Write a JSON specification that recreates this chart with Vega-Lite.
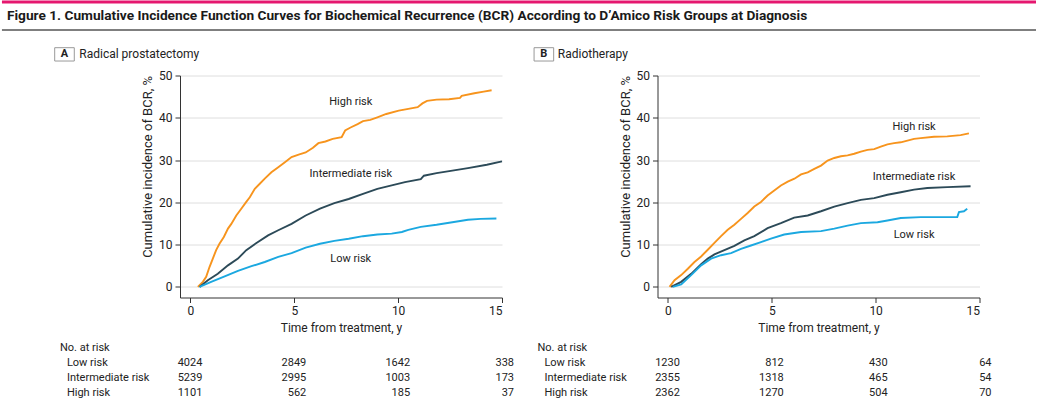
{
  "$schema": "https://vega.github.io/schema/vega-lite/v6.json",
  "padding": 0,
  "background": "white",
  "spacing": 45.5,
  "bounds": "flush",
  "config": {
    "font": "Roboto",
    "view": {"stroke": null},
    "axis": {
      "labelFont": "Roboto", "titleFont": "Roboto",
      "labelFontSize": 12, "titleFontSize": 12, "titleFontWeight": "normal",
      "labelColor": "#222", "titleColor": "#222",
      "domainColor": "#333", "tickColor": "#333", "tickSize": 5,
      "gridColor": "#dedede", "labelPadding": 3
    }
  },
  "datasets": {
    "curvesA": [
      {"group":"High risk","t":0.36,"v":0},{"group":"High risk","t":0.6,"v":1.2},{"group":"High risk","t":0.76,"v":2.4},{"group":"High risk","t":0.92,"v":4.7},{"group":"High risk","t":1.08,"v":6.7},{"group":"High risk","t":1.24,"v":8.7},{"group":"High risk","t":1.4,"v":10.2},{"group":"High risk","t":1.61,"v":11.8},{"group":"High risk","t":1.81,"v":13.8},{"group":"High risk","t":1.97,"v":14.9},{"group":"High risk","t":2.21,"v":16.9},{"group":"High risk","t":2.45,"v":18.5},{"group":"High risk","t":2.69,"v":20.1},{"group":"High risk","t":2.86,"v":21.2},{"group":"High risk","t":3.1,"v":23.2},{"group":"High risk","t":3.34,"v":24.4},{"group":"High risk","t":3.58,"v":25.6},{"group":"High risk","t":3.9,"v":27.1},{"group":"High risk","t":4.23,"v":28.3},{"group":"High risk","t":4.55,"v":29.5},{"group":"High risk","t":4.87,"v":30.7},{"group":"High risk","t":5.21,"v":31.3},{"group":"High risk","t":5.55,"v":31.8},{"group":"High risk","t":5.9,"v":32.9},{"group":"High risk","t":6.16,"v":34.0},{"group":"High risk","t":6.5,"v":34.4},{"group":"High risk","t":6.85,"v":35.0},{"group":"High risk","t":7.28,"v":35.4},{"group":"High risk","t":7.45,"v":37.0},{"group":"High risk","t":7.71,"v":37.7},{"group":"High risk","t":8.05,"v":38.5},{"group":"High risk","t":8.31,"v":39.2},{"group":"High risk","t":8.66,"v":39.5},{"group":"High risk","t":9.0,"v":40.1},{"group":"High risk","t":9.43,"v":40.9},{"group":"High risk","t":10.03,"v":41.7},{"group":"High risk","t":10.49,"v":42.1},{"group":"High risk","t":10.94,"v":42.5},{"group":"High risk","t":11.17,"v":43.4},{"group":"High risk","t":11.39,"v":44.0},{"group":"High risk","t":11.85,"v":44.3},{"group":"High risk","t":12.45,"v":44.4},{"group":"High risk","t":12.98,"v":44.7},{"group":"High risk","t":13.06,"v":45.2},{"group":"High risk","t":13.67,"v":45.8},{"group":"High risk","t":14.12,"v":46.2},{"group":"High risk","t":14.5,"v":46.5},
      {"group":"Intermediate risk","t":0.44,"v":0},{"group":"Intermediate risk","t":0.84,"v":1.6},{"group":"Intermediate risk","t":1.32,"v":3.1},{"group":"Intermediate risk","t":1.81,"v":5.1},{"group":"Intermediate risk","t":2.29,"v":6.7},{"group":"Intermediate risk","t":2.69,"v":8.7},{"group":"Intermediate risk","t":3.18,"v":10.4},{"group":"Intermediate risk","t":3.74,"v":12.2},{"group":"Intermediate risk","t":4.23,"v":13.4},{"group":"Intermediate risk","t":4.87,"v":14.9},{"group":"Intermediate risk","t":5.55,"v":16.9},{"group":"Intermediate risk","t":6.24,"v":18.5},{"group":"Intermediate risk","t":6.93,"v":19.8},{"group":"Intermediate risk","t":7.62,"v":20.8},{"group":"Intermediate risk","t":8.31,"v":22.0},{"group":"Intermediate risk","t":9.0,"v":23.2},{"group":"Intermediate risk","t":9.69,"v":24.0},{"group":"Intermediate risk","t":10.33,"v":24.8},{"group":"Intermediate risk","t":11.09,"v":25.5},{"group":"Intermediate risk","t":11.24,"v":26.3},{"group":"Intermediate risk","t":11.85,"v":26.9},{"group":"Intermediate risk","t":12.61,"v":27.5},{"group":"Intermediate risk","t":13.36,"v":28.1},{"group":"Intermediate risk","t":14.27,"v":28.9},{"group":"Intermediate risk","t":15.0,"v":29.7},
      {"group":"Low risk","t":0.44,"v":0},{"group":"Low risk","t":1.0,"v":1.2},{"group":"Low risk","t":1.65,"v":2.5},{"group":"Low risk","t":2.29,"v":3.8},{"group":"Low risk","t":2.94,"v":4.9},{"group":"Low risk","t":3.58,"v":5.9},{"group":"Low risk","t":4.23,"v":7.1},{"group":"Low risk","t":4.87,"v":8.0},{"group":"Low risk","t":5.55,"v":9.3},{"group":"Low risk","t":6.24,"v":10.2},{"group":"Low risk","t":6.93,"v":10.9},{"group":"Low risk","t":7.62,"v":11.4},{"group":"Low risk","t":8.31,"v":12.0},{"group":"Low risk","t":9.0,"v":12.4},{"group":"Low risk","t":9.69,"v":12.6},{"group":"Low risk","t":10.18,"v":13.0},{"group":"Low risk","t":10.49,"v":13.5},{"group":"Low risk","t":11.09,"v":14.2},{"group":"Low risk","t":11.85,"v":14.7},{"group":"Low risk","t":12.61,"v":15.3},{"group":"Low risk","t":13.36,"v":15.9},{"group":"Low risk","t":13.97,"v":16.1},{"group":"Low risk","t":14.73,"v":16.2}
    ],
    "curvesB": [
      {"group":"High risk","t":0.08,"v":0},{"group":"High risk","t":0.32,"v":1.6},{"group":"High risk","t":0.64,"v":2.8},{"group":"High risk","t":0.96,"v":4.3},{"group":"High risk","t":1.28,"v":5.9},{"group":"High risk","t":1.6,"v":7.2},{"group":"High risk","t":1.92,"v":8.8},{"group":"High risk","t":2.24,"v":10.4},{"group":"High risk","t":2.56,"v":12.0},{"group":"High risk","t":2.88,"v":13.5},{"group":"High risk","t":3.2,"v":14.7},{"group":"High risk","t":3.52,"v":16.1},{"group":"High risk","t":3.84,"v":17.5},{"group":"High risk","t":4.16,"v":19.0},{"group":"High risk","t":4.48,"v":20.1},{"group":"High risk","t":4.8,"v":21.6},{"group":"High risk","t":5.12,"v":22.8},{"group":"High risk","t":5.44,"v":24.0},{"group":"High risk","t":5.77,"v":24.9},{"group":"High risk","t":6.09,"v":25.6},{"group":"High risk","t":6.41,"v":26.6},{"group":"High risk","t":6.73,"v":27.1},{"group":"High risk","t":7.05,"v":27.9},{"group":"High risk","t":7.37,"v":28.7},{"group":"High risk","t":7.69,"v":29.9},{"group":"High risk","t":8.01,"v":30.5},{"group":"High risk","t":8.33,"v":30.9},{"group":"High risk","t":8.65,"v":31.1},{"group":"High risk","t":8.97,"v":31.5},{"group":"High risk","t":9.29,"v":32.0},{"group":"High risk","t":9.61,"v":32.4},{"group":"High risk","t":9.93,"v":32.6},{"group":"High risk","t":10.25,"v":33.2},{"group":"High risk","t":10.57,"v":33.7},{"group":"High risk","t":10.89,"v":34.0},{"group":"High risk","t":11.21,"v":34.2},{"group":"High risk","t":11.53,"v":34.6},{"group":"High risk","t":11.85,"v":35.0},{"group":"High risk","t":12.17,"v":35.2},{"group":"High risk","t":12.81,"v":35.5},{"group":"High risk","t":13.45,"v":35.6},{"group":"High risk","t":14.09,"v":35.9},{"group":"High risk","t":14.49,"v":36.3},
      {"group":"Intermediate risk","t":0.16,"v":0},{"group":"Intermediate risk","t":0.64,"v":1.2},{"group":"Intermediate risk","t":1.12,"v":3.1},{"group":"Intermediate risk","t":1.6,"v":5.4},{"group":"Intermediate risk","t":1.92,"v":6.7},{"group":"Intermediate risk","t":2.24,"v":7.7},{"group":"Intermediate risk","t":2.72,"v":8.7},{"group":"Intermediate risk","t":3.2,"v":9.7},{"group":"Intermediate risk","t":3.68,"v":11.0},{"group":"Intermediate risk","t":4.16,"v":12.0},{"group":"Intermediate risk","t":4.8,"v":13.9},{"group":"Intermediate risk","t":5.44,"v":15.1},{"group":"Intermediate risk","t":6.08,"v":16.4},{"group":"Intermediate risk","t":6.73,"v":16.9},{"group":"Intermediate risk","t":7.37,"v":17.9},{"group":"Intermediate risk","t":8.01,"v":19.0},{"group":"Intermediate risk","t":8.65,"v":19.8},{"group":"Intermediate risk","t":9.29,"v":20.6},{"group":"Intermediate risk","t":9.93,"v":21.0},{"group":"Intermediate risk","t":10.57,"v":21.8},{"group":"Intermediate risk","t":11.21,"v":22.4},{"group":"Intermediate risk","t":11.85,"v":23.0},{"group":"Intermediate risk","t":12.49,"v":23.4},{"group":"Intermediate risk","t":13.45,"v":23.6},{"group":"Intermediate risk","t":14.57,"v":23.8},
      {"group":"Low risk","t":0.24,"v":0},{"group":"Low risk","t":0.64,"v":0.6},{"group":"Low risk","t":1.12,"v":2.8},{"group":"Low risk","t":1.6,"v":5.1},{"group":"Low risk","t":2.08,"v":6.7},{"group":"Low risk","t":2.56,"v":7.5},{"group":"Low risk","t":3.04,"v":8.0},{"group":"Low risk","t":3.52,"v":9.0},{"group":"Low risk","t":4.0,"v":9.8},{"group":"Low risk","t":4.48,"v":10.6},{"group":"Low risk","t":4.96,"v":11.4},{"group":"Low risk","t":5.6,"v":12.4},{"group":"Low risk","t":6.41,"v":13.0},{"group":"Low risk","t":7.37,"v":13.2},{"group":"Low risk","t":8.01,"v":13.8},{"group":"Low risk","t":8.65,"v":14.5},{"group":"Low risk","t":9.29,"v":15.1},{"group":"Low risk","t":10.09,"v":15.3},{"group":"Low risk","t":10.57,"v":15.7},{"group":"Low risk","t":11.21,"v":16.3},{"group":"Low risk","t":12.17,"v":16.5},{"group":"Low risk","t":13.13,"v":16.5},{"group":"Low risk","t":13.93,"v":16.5},{"group":"Low risk","t":14.01,"v":17.7},{"group":"Low risk","t":14.25,"v":17.9},{"group":"Low risk","t":14.41,"v":18.5}
    ],
    "labelsA": [
      {"group":"High risk","t":7.72,"v":43.85},
      {"group":"Intermediate risk","t":7.72,"v":26.6},
      {"group":"Low risk","t":7.72,"v":6.5}
    ],
    "labelsB": [
      {"group":"High risk","t":11.85,"v":37.9},
      {"group":"Intermediate risk","t":11.85,"v":26.1},
      {"group":"Low risk","t":11.85,"v":12.3}
    ],
    "riskA": [
      {"t":0,"row":1,"n":4024},{"t":5,"row":1,"n":2849},{"t":10,"row":1,"n":1642},{"t":15,"row":1,"n":338},
      {"t":0,"row":2,"n":5239},{"t":5,"row":2,"n":2995},{"t":10,"row":2,"n":1003},{"t":15,"row":2,"n":173},
      {"t":0,"row":3,"n":1101},{"t":5,"row":3,"n":562},{"t":10,"row":3,"n":185},{"t":15,"row":3,"n":37}
    ],
    "riskB": [
      {"t":0,"row":1,"n":1230},{"t":5,"row":1,"n":812},{"t":10,"row":1,"n":430},{"t":15,"row":1,"n":64},
      {"t":0,"row":2,"n":2355},{"t":5,"row":2,"n":1318},{"t":10,"row":2,"n":465},{"t":15,"row":2,"n":54},
      {"t":0,"row":3,"n":2362},{"t":5,"row":3,"n":1270},{"t":10,"row":3,"n":504},{"t":15,"row":3,"n":70}
    ],
    "rowlabels": [
      {"label":"Low risk","row":1},{"label":"Intermediate risk","row":2},{"label":"High risk","row":3}
    ],
    "tablehead": [{"label":"No. at risk","row":0}]
  },
  "vconcat": [
    {
      "width": 856, "height": 28,
      "data": {"values": [{"title": "Figure 1. Cumulative Incidence Function Curves for Biochemical Recurrence (BCR) According to D’Amico Risk Groups at Diagnosis"}]},
      "layer": [
        {"mark": {"type": "rule", "color": "#E5176F", "strokeWidth": 3},
         "encoding": {"x": {"datum": -0.208, "type": "quantitative", "scale": {"domain": [0, 1], "nice": false, "zero": false}, "axis": null},
                      "x2": {"datum": 1},
                      "y": {"datum": 1, "type": "quantitative", "scale": {"domain": [0, 1], "nice": false, "zero": false}, "axis": null}}},
        {"mark": {"type": "rule", "color": "#555", "strokeWidth": 1.5},
         "encoding": {"x": {"datum": -0.208, "type": "quantitative"}, "x2": {"datum": 1}, "y": {"datum": 0, "type": "quantitative"}}},
        {"mark": {"type": "text", "align": "left", "dx": 5, "fontSize": 13.7, "fontWeight": "bold", "color": "#1a1a1a"},
         "encoding": {"x": {"datum": -0.208, "type": "quantitative"}, "y": {"datum": 0.5, "type": "quantitative"}, "text": {"field": "title"}}}
      ]
    },
    {
      "spacing": 17.5,
      "hconcat": [
        {
          "spacing": 42.5,
          "bounds": "flush",
          "vconcat": [
            {
              "width": 322, "height": 222,
              "layer": [
                {"data": {"name": "curvesA"}, "mark": {"type": "line", "strokeWidth": 1.9},
                 "encoding": {
                   "x": {"field": "t", "type": "quantitative", "scale": {"domain": [-0.5, 15], "nice": false, "zero": false},
                         "axis": {"values": [0, 5, 10, 15], "title": "Time from treatment, y", "grid": false, "titlePadding": 6}},
                   "y": {"field": "v", "type": "quantitative", "scale": {"domain": [-2.5, 50], "nice": false, "zero": false},
                         "axis": {"values": [0, 10, 20, 30, 40, 50], "title": "Cumulative incidence of BCR, %", "titleFontSize": 13, "grid": true, "titleAnchor": "end", "titlePadding": 4}},
                   "color": {"field": "group", "type": "nominal", "scale": {"domain": ["Low risk", "Intermediate risk", "High risk"], "range": ["#1BA8E0", "#2C4A58", "#F7941D"]}, "legend": null}
                 }},
                {"data": {"name": "labelsA"}, "mark": {"type": "text", "fontSize": 11, "color": "#222"},
                 "encoding": {"x": {"field": "t", "type": "quantitative"}, "y": {"field": "v", "type": "quantitative"}, "text": {"field": "group"}}},
                {"data": {"values": [{"letter": "A", "name": "Radical prostatectomy"}]},
                 "layer": [
                   {"mark": {"type": "point", "shape": "M-1,-0.68L1,-0.68L1,0.68L-1,0.68Z", "size": 384, "filled": false, "color": "#999", "strokeWidth": 1, "opacity": 1},
                    "encoding": {"x": {"datum": -6.06, "type": "quantitative"}, "y": {"datum": 55, "type": "quantitative"}}},
                   {"mark": {"type": "text", "fontSize": 11, "fontWeight": "bold", "color": "#222"},
                    "encoding": {"x": {"datum": -6.06, "type": "quantitative"}, "y": {"datum": 55, "type": "quantitative"}, "text": {"field": "letter"}}},
                   {"mark": {"type": "text", "fontSize": 12, "align": "left", "dx": 14.8, "color": "#222"},
                    "encoding": {"x": {"datum": -6.06, "type": "quantitative"}, "y": {"datum": 55, "type": "quantitative"}, "text": {"field": "name"}}}
                 ]}
              ]
            },
            {
              "width": 322, "height": 60,
              "layer": [
                {"data": {"name": "riskA"}, "mark": {"type": "text", "align": "right", "dx": 12, "fontSize": 11, "color": "#222"},
                 "encoding": {
                   "x": {"field": "t", "type": "quantitative", "scale": {"domain": [-0.5, 15], "nice": false, "zero": false}, "axis": null},
                   "y": {"field": "row", "type": "quantitative", "scale": {"domain": [-0.5, 3.5], "reverse": true, "nice": false, "zero": false}, "axis": null},
                   "text": {"field": "n", "type": "nominal"}}},
                {"data": {"name": "tablehead"}, "mark": {"type": "text", "align": "left", "fontSize": 11, "color": "#222"},
                 "encoding": {"x": {"datum": -6.28, "type": "quantitative"}, "y": {"field": "row", "type": "quantitative"}, "text": {"field": "label"}}},
                {"data": {"name": "rowlabels"}, "mark": {"type": "text", "align": "left", "dx": 7, "fontSize": 11, "color": "#222"},
                 "encoding": {"x": {"datum": -6.28, "type": "quantitative"}, "y": {"field": "row", "type": "quantitative"}, "text": {"field": "label"}}}
              ]
            }
          ]
        },
        {
          "spacing": 42.5,
          "bounds": "flush",
          "vconcat": [
            {
              "width": 322, "height": 222,
              "layer": [
                {"data": {"name": "curvesB"}, "mark": {"type": "line", "strokeWidth": 1.9},
                 "encoding": {
                   "x": {"field": "t", "type": "quantitative", "scale": {"domain": [-0.5, 15], "nice": false, "zero": false},
                         "axis": {"values": [0, 5, 10, 15], "title": "Time from treatment, y", "grid": false, "titlePadding": 6}},
                   "y": {"field": "v", "type": "quantitative", "scale": {"domain": [-2.5, 50], "nice": false, "zero": false},
                         "axis": {"values": [0, 10, 20, 30, 40, 50], "title": "Cumulative incidence of BCR, %", "titleFontSize": 13, "grid": true, "titleAnchor": "end", "titlePadding": 4}},
                   "color": {"field": "group", "type": "nominal", "scale": {"domain": ["Low risk", "Intermediate risk", "High risk"], "range": ["#1BA8E0", "#2C4A58", "#F7941D"]}, "legend": null}
                 }},
                {"data": {"name": "labelsB"}, "mark": {"type": "text", "fontSize": 11, "color": "#222"},
                 "encoding": {"x": {"field": "t", "type": "quantitative"}, "y": {"field": "v", "type": "quantitative"}, "text": {"field": "group"}}},
                {"data": {"values": [{"letter": "B", "name": "Radiotherapy"}]},
                 "layer": [
                   {"mark": {"type": "point", "shape": "M-1,-0.68L1,-0.68L1,0.68L-1,0.68Z", "size": 384, "filled": false, "color": "#999", "strokeWidth": 1, "opacity": 1},
                    "encoding": {"x": {"datum": -5.97, "type": "quantitative"}, "y": {"datum": 55, "type": "quantitative"}}},
                   {"mark": {"type": "text", "fontSize": 11, "fontWeight": "bold", "color": "#222"},
                    "encoding": {"x": {"datum": -5.97, "type": "quantitative"}, "y": {"datum": 55, "type": "quantitative"}, "text": {"field": "letter"}}},
                   {"mark": {"type": "text", "fontSize": 12, "align": "left", "dx": 14, "color": "#222"},
                    "encoding": {"x": {"datum": -5.97, "type": "quantitative"}, "y": {"datum": 55, "type": "quantitative"}, "text": {"field": "name"}}}
                 ]}
              ]
            },
            {
              "width": 322, "height": 60,
              "layer": [
                {"data": {"name": "riskB"}, "mark": {"type": "text", "align": "right", "dx": 12, "fontSize": 11, "color": "#222"},
                 "encoding": {
                   "x": {"field": "t", "type": "quantitative", "scale": {"domain": [-0.5, 15], "nice": false, "zero": false}, "axis": null},
                   "y": {"field": "row", "type": "quantitative", "scale": {"domain": [-0.5, 3.5], "reverse": true, "nice": false, "zero": false}, "axis": null},
                   "text": {"field": "n", "type": "nominal"}}},
                {"data": {"name": "tablehead"}, "mark": {"type": "text", "align": "left", "fontSize": 11, "color": "#222"},
                 "encoding": {"x": {"datum": -6.28, "type": "quantitative"}, "y": {"field": "row", "type": "quantitative"}, "text": {"field": "label"}}},
                {"data": {"name": "rowlabels"}, "mark": {"type": "text", "align": "left", "dx": 7, "fontSize": 11, "color": "#222"},
                 "encoding": {"x": {"datum": -6.28, "type": "quantitative"}, "y": {"field": "row", "type": "quantitative"}, "text": {"field": "label"}}}
              ]
            }
          ]
        }
      ]
    }
  ]
}
